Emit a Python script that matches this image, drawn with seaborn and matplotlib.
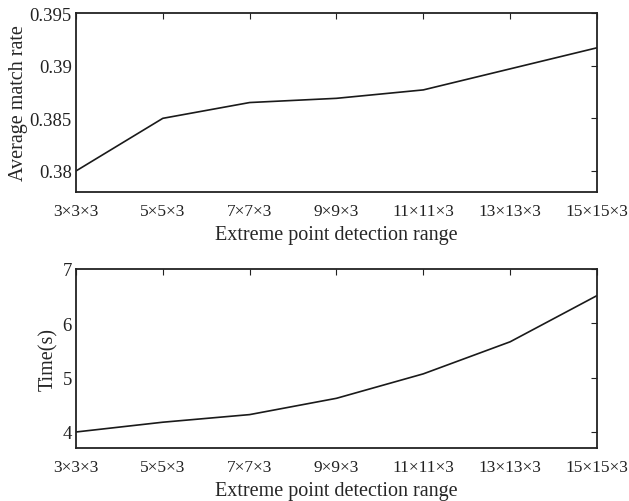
import matplotlib
matplotlib.use("Agg")
import matplotlib.pyplot as plt
import seaborn as sns
import pandas as pd

ranges = ["3×3×3", "5×5×3", "7×7×3", "9×9×3", "11×11×3", "13×13×3", "15×15×3"]
match_rate = [0.3800, 0.3850, 0.3865, 0.3869, 0.3877, 0.3897, 0.3917]
time_s = [4.00, 4.18, 4.32, 4.62, 5.07, 5.66, 6.51]

sns.set_theme(style="white")
plt.rcParams['font.family'] = ['Liberation Serif', 'DejaVu Serif']

df = pd.DataFrame({"idx": list(range(len(ranges))), "rate": match_rate, "time": time_s})

fig = plt.figure(figsize=(6.29, 5.02), dpi=100)
ax1 = fig.add_axes([0.1208, 0.6155, 0.8283, 0.3565])
ax2 = fig.add_axes([0.1208, 0.105, 0.8283, 0.3572])

sns.lineplot(data=df, x="idx", y="rate", ax=ax1, color="#1a1a1a", linewidth=1.2)
sns.lineplot(data=df, x="idx", y="time", ax=ax2, color="#1a1a1a", linewidth=1.2)

ax1.set_ylim(0.378, 0.395)
ax1.set_yticks([0.38, 0.385, 0.39, 0.395])
ax1.set_yticklabels(["0.38", "0.385", "0.39", "0.395"])
ax1.set_ylabel("Average match rate", fontsize=14.5, labelpad=1)

ax2.set_ylim(3.7, 7)
ax2.set_yticks([4, 5, 6, 7])
ax2.set_ylabel("Time(s)", fontsize=14.5, labelpad=3)

for ax in (ax1, ax2):
    ax.set_xlim(0, len(ranges) - 1)
    ax.set_xticks(list(range(len(ranges))))
    ax.set_xticklabels(ranges)
    ax.set_xlabel("Extreme point detection range", fontsize=14.5, labelpad=4)
    ax.tick_params(axis="both", direction="in", top=True, right=True, length=4,
                   width=0.8, colors="#222222")
    ax.tick_params(axis="y", pad=3, labelsize=13.5)
    ax.tick_params(axis="x", pad=8, labelsize=12.5)
    for s in ax.spines.values():
        s.set_visible(True)
        s.set_color("#222222")
        s.set_linewidth(1.3)

fig.savefig("out.png", dpi=100)
